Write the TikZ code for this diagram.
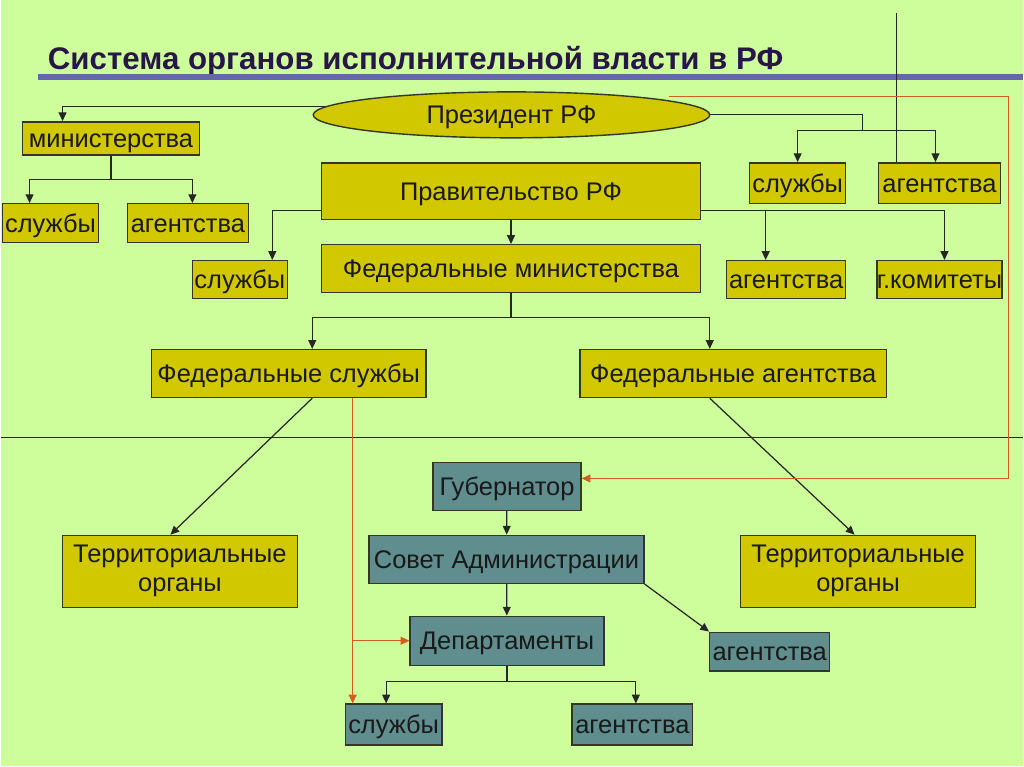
\documentclass[tikz,border=0pt]{standalone}
\usepackage{fontspec}
\setmainfont{Liberation Sans}
\usetikzlibrary{shapes, arrows.meta, positioning, calc}
\definecolor{bggreen}{RGB}{206,253,156}
\definecolor{boxolive}{RGB}{210,200,0}
\definecolor{boxteal}{RGB}{96,142,142}
\definecolor{edgegray}{RGB}{50,55,40}
\definecolor{titlenavy}{RGB}{40,22,70}
\definecolor{barblue}{RGB}{102,102,170}
\definecolor{linkred}{RGB}{215,90,30}

\tikzset{
  ybox/.style 2 args={draw=edgegray, line width=0.8pt, fill=boxolive, minimum width={#1*0.02cm}, minimum height={#2*0.02cm}, inner sep=0pt, font=\fontsize{14.5}{16.5}\selectfont, text height=13pt, text depth=2.6pt, align=center, text=black!90},
  tbox/.style 2 args={ybox={#1}{#2}, fill=boxteal},
  twoline/.style={text height={}, text depth={}},
  ln/.style={line width=0.7pt, draw=black!85},
  arr/.style={ln, -{Triangle[length=5pt,width=4.5pt]}},
  redarr/.style={line width=0.7pt, draw=linkred, -{Triangle[length=5pt,width=4.5pt]}},
}

\begin{document}
\begin{tikzpicture}[x=0.02cm, y=-0.02cm]
  \fill[bggreen] (0,0) rectangle (1024,767);

  % Title
  \node[font=\fontsize{17.8}{21}\selectfont\bfseries, text=titlenavy, anchor=base west, inner sep=0pt] (title) at (47,70) {Система органов исполнительной власти в РФ};
  \fill[barblue] (37,74) rectangle (1024,80);

  % Federal level
  \node[ybox={397}{46}, ellipse] (pres) at (511.5,115) {Президент РФ};
  \node[ybox={177}{33}] (min) at (110.5,138.5) {министерства};
  \node[ybox={96}{39}] (sl1) at (50,223.5) {службы};
  \node[ybox={121}{39}] (ag1) at (187.5,223.5) {агентства};
  \node[ybox={96}{41}] (sl2) at (798,183.5) {службы};
  \node[ybox={122}{41}] (ag2) at (940,183.5) {агентства};
  \node[ybox={380}{57}] (gov) at (511,191.5) {Правительство РФ};
  \node[ybox={380}{48}] (fmin) at (511,269) {Федеральные министерства};
  \node[ybox={95}{38}] (sl3) at (239.5,280) {службы};
  \node[ybox={119}{38}] (ag3) at (786.5,280) {агентства};
  \node[ybox={122}{38}] (gk) at (940,280) {г.комитеты};
  \node[ybox={275}{48}] (fsl) at (288.5,374) {Федеральные службы};
  \node[ybox={307}{48}] (fag) at (733.5,374) {Федеральные агентства};
  \node[ybox={235}{72}, twoline] (ter1) at (179.5,572) {Территориальные\\органы};
  \node[ybox={235}{72}, twoline] (ter2) at (858.5,572) {Территориальные\\органы};

  % Regional level
  \node[tbox={148}{48}] (gub) at (507,487) {Губернатор};
  \node[tbox={275}{48}] (sov) at (506.5,560) {Совет Администрации};
  \node[tbox={194}{49}] (dep) at (507,641.5) {Департаменты};
  \node[tbox={120}{39}] (ag4) at (770,652.5) {агентства};
  \node[tbox={97}{41}] (sl4) at (393.5,725.5) {службы};
  \node[tbox={121}{41}] (ag5) at (632.5,725.5) {агентства};

  % Connectors
  \draw[arr] ([shift={(0.25cm,0.16cm)}]pres.west) -| ([xshift=-0.97cm]min.north);
  \coordinate (mj) at (110.5,180);
  \draw[ln] (min) -- (mj);
  \draw[arr] (mj) -| ([xshift=-0.42cm]sl1.north);
  \draw[arr] (mj) -| ([xshift=0.09cm]ag1.north);

  \coordinate (pj) at (863,131);
  \draw[ln] (pres.east) -| (pj);
  \draw[arr] (pj) -| (sl2.north);
  \draw[arr] (pj) -| ([xshift=-0.08cm]ag2.north);
  \coordinate (vt) at (897,13);
  \draw[ln] (vt) -- (vt |- ag2.north);

  \draw[arr] ([yshift=-0.39cm]gov.west) -| ([xshift=0.65cm]sl3.north);
  \draw[arr] (gov) -- (fmin);
  \coordinate (gr) at ([yshift=-0.39cm]gov.east);
  \draw[arr] (gr) -| ([xshift=0.1cm]gk.north);
  \draw[arr] (gr) -| ([xshift=-0.41cm]ag3.north);

  \coordinate (fj) at (511,318);
  \draw[ln] (fmin) -- (fj);
  \draw[arr] (fj) -| ([xshift=0.47cm]fsl.north);
  \draw[arr] (fj) -| ([xshift=-0.47cm]fag.north);
  \draw[arr] ([xshift=0.47cm]fsl.south) -- ([xshift=-0.19cm]ter1.north);
  \draw[arr] ([xshift=-0.47cm]fag.south) -- ([xshift=-0.07cm]ter2.north);

  \draw[ln] (0,438) -- (1024,438);

  % Red links
  \coordinate (rt) at (669,97);
  \coordinate (rc) at (1009,97);
  \draw[redarr] (rt) -- (rc) |- ([yshift=0.16cm]gub.east);
  \coordinate (rs) at ([xshift=1.28cm]fsl.south);
  \draw[redarr] (rs) -- (rs |- sl4.north);
  \draw[redarr] (rs |- dep.west) -- (dep.west);

  \draw[arr] (gub) -- (sov);
  \draw[arr] (sov) -- (dep);
  \draw[arr] (sov.south east) -- (ag4.north west);
  \coordinate (dj) at (507,682);
  \draw[ln] (dep) -- (dj);
  \draw[arr] (dj) -| ([xshift=-0.15cm]sl4.north);
  \draw[arr] (dj) -| ([xshift=0.07cm]ag5.north);
\end{tikzpicture}
\end{document}
